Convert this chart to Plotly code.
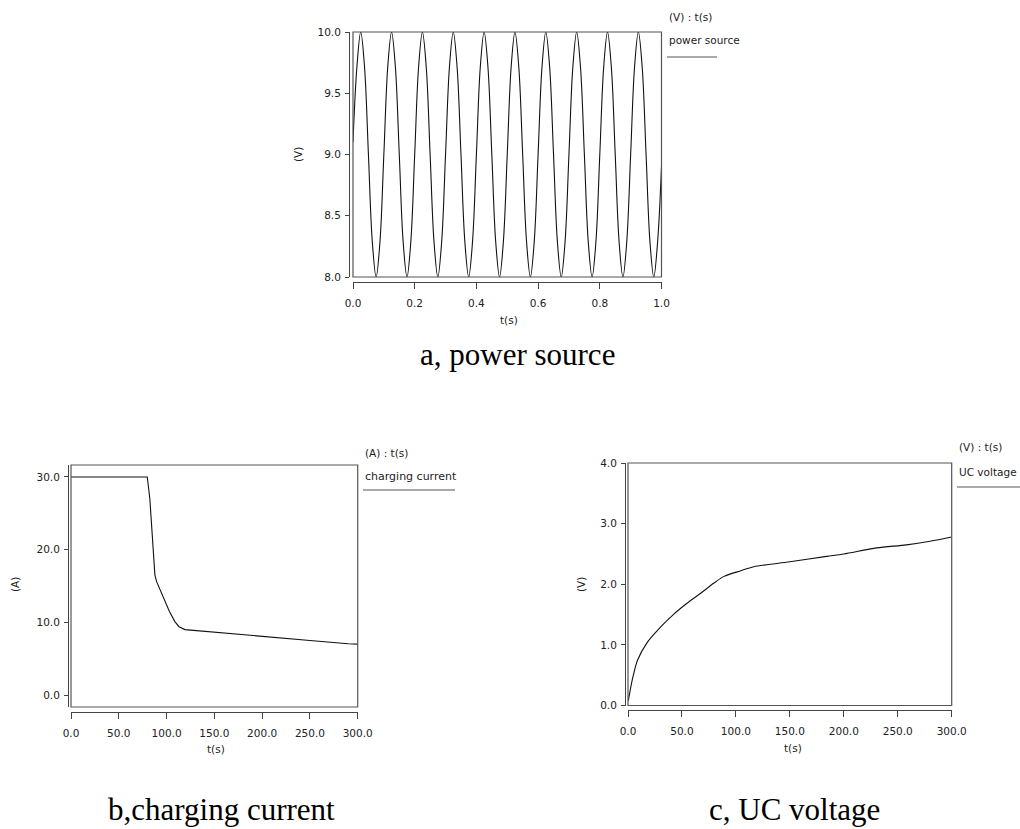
import plotly.graph_objects as go

# ---------------- data ----------------
# a, power source : source voltage oscillating 8..10 V, period 0.1 s
t_src = [0.0, 0.0125, 0.025, 0.0375, 0.05, 0.0625, 0.075, 0.0875,
         0.1, 0.1125, 0.125, 0.1375, 0.15, 0.1625, 0.175, 0.1875,
         0.2, 0.2125, 0.225, 0.2375, 0.25, 0.2625, 0.275, 0.2875,
         0.3, 0.3125, 0.325, 0.3375, 0.35, 0.3625, 0.375, 0.3875,
         0.4, 0.4125, 0.425, 0.4375, 0.45, 0.4625, 0.475, 0.4875,
         0.5, 0.5125, 0.525, 0.5375, 0.55, 0.5625, 0.575, 0.5875,
         0.6, 0.6125, 0.625, 0.6375, 0.65, 0.6625, 0.675, 0.6875,
         0.7, 0.7125, 0.725, 0.7375, 0.75, 0.7625, 0.775, 0.7875,
         0.8, 0.8125, 0.825, 0.8375, 0.85, 0.8625, 0.875, 0.8875,
         0.9, 0.9125, 0.925, 0.9375, 0.95, 0.9625, 0.975, 0.9875,
         1.0]
v_src = [9.1, 9.71, 10.0, 9.71, 9.0, 8.29, 8.0, 8.29,
         9.0, 9.71, 10.0, 9.71, 9.0, 8.29, 8.0, 8.29,
         9.0, 9.71, 10.0, 9.71, 9.0, 8.29, 8.0, 8.29,
         9.0, 9.71, 10.0, 9.71, 9.0, 8.29, 8.0, 8.29,
         9.0, 9.71, 10.0, 9.71, 9.0, 8.29, 8.0, 8.29,
         9.0, 9.71, 10.0, 9.71, 9.0, 8.29, 8.0, 8.29,
         9.0, 9.71, 10.0, 9.71, 9.0, 8.29, 8.0, 8.29,
         9.0, 9.71, 10.0, 9.71, 9.0, 8.29, 8.0, 8.29,
         9.0, 9.71, 10.0, 9.71, 9.0, 8.29, 8.0, 8.29,
         9.0, 9.71, 10.0, 9.71, 9.0, 8.29, 8.0, 8.29,
         8.9]

# b, charging current
t_cur = [0.0, 40.0, 79.8, 82.5, 85.0, 87.8, 89.6, 93.0, 98.3, 103.0,
         108.7, 113.0, 119.2, 140.0, 166.0, 200.0, 250.0, 290.0, 300.0]
i_cur = [30.0, 30.0, 30.0, 27.0, 22.5, 16.5, 15.6, 14.5, 12.8, 11.5,
         10.1, 9.4, 9.0, 8.75, 8.5, 8.05, 7.5, 7.05, 7.0]

# c, UC voltage
t_uc = [0.3, 1.2, 4.3, 8.9, 18.2, 30.5, 42.0, 55.0, 68.0, 79.7, 89.0,
        104.0, 116.6, 150.0, 184.0, 200.0, 230.5, 258.0, 280.0, 300.0]
v_uc = [0.08, 0.17, 0.45, 0.75, 1.05, 1.30, 1.50, 1.69, 1.86, 2.02, 2.13,
        2.22, 2.29, 2.37, 2.46, 2.50, 2.60, 2.65, 2.71, 2.78]

x_ticks_src = [0.0, 0.2, 0.4, 0.6, 0.8, 1.0]
y_ticks_src = [8.0, 8.5, 9.0, 9.5, 10.0]
x_ticks_300 = [0.0, 50.0, 100.0, 150.0, 200.0, 250.0, 300.0]
y_ticks_cur = [0.0, 10.0, 20.0, 30.0]
y_ticks_uc = [0.0, 1.0, 2.0, 3.0, 4.0]

# ---------------- layout helpers ----------------
W, H = 1020, 829


def px(p):
    return p / W


def py(p):
    return 1 - p / H


AX_FONT = dict(family="DejaVu Sans", size=10.5, color="#222")
AXC = "#444"


def xax(dom, pos, rng, ticks):
    return dict(domain=[px(dom[0]), px(dom[1])], anchor="free", position=py(pos),
                range=rng, tickvals=ticks, ticktext=[f"{v:.1f}" for v in ticks],
                showgrid=False, zeroline=False, showline=True, linecolor=AXC,
                linewidth=1, ticks="outside", ticklen=6, tickwidth=1,
                tickcolor=AXC, tickfont=AX_FONT, ticklabelstandoff=5,
                automargin=False, fixedrange=True)


def yax(dom, pos, rng, ticks):
    return dict(domain=[py(dom[1]), py(dom[0])], anchor="free", position=px(pos),
                range=rng, tickvals=ticks, ticktext=[f"{v:.1f}" for v in ticks],
                showgrid=False, zeroline=False, showline=True, linecolor=AXC,
                linewidth=1, ticks="outside", ticklen=4, tickwidth=1,
                tickcolor=AXC, tickfont=AX_FONT, ticklabelstandoff=2,
                automargin=False, fixedrange=True)


LINE = dict(color="#111", width=1.1)

fig = go.Figure()
fig.add_trace(go.Scatter(x=t_src, y=v_src, mode="lines", name="power source",
                         line=dict(LINE, shape="spline", smoothing=1.0),
                         xaxis="x", yaxis="y", showlegend=False))
fig.add_trace(go.Scatter(x=t_cur, y=i_cur, mode="lines", name="charging current",
                         line=dict(LINE, shape="linear"),
                         xaxis="x2", yaxis="y2", showlegend=False))
fig.add_trace(go.Scatter(x=t_uc, y=v_uc, mode="lines", name="UC voltage",
                         line=dict(LINE, shape="spline", smoothing=0.8),
                         xaxis="x3", yaxis="y3", showlegend=False))

fig.update_layout(
    template="none",
    width=W, height=H, margin=dict(l=0, r=0, t=0, b=0, autoexpand=False),
    paper_bgcolor="white", plot_bgcolor="white", showlegend=False,
    xaxis=xax((353, 661.5), 282, [0, 1], x_ticks_src),
    yaxis=yax((32, 277), 349, [8, 10], y_ticks_src),
    xaxis2=xax((71, 357.7), 712, [0, 300], x_ticks_300),
    yaxis2=yax((465, 707), 68, [-1.65, 31.65], y_ticks_cur),
    xaxis3=xax((628, 951.7), 710, [0, 300], x_ticks_300),
    yaxis3=yax((463, 705.5), 625, [0, 4], y_ticks_uc),
)

# plot frames
shapes = []
for s in ["", "2", "3"]:
    shapes.append(dict(type="rect", xref=f"x{s} domain", yref=f"y{s} domain",
                       x0=0, x1=1, y0=0, y1=1, line=dict(color="#555", width=1.2)))

# legend lines
for (x0, x1, y) in [(667, 717, 57), (363, 455, 490), (957, 1020, 487)]:
    shapes.append(dict(type="line", xref="paper", yref="paper",
                       x0=px(x0), x1=px(x1), y0=py(y), y1=py(y),
                       line=dict(color="#555", width=1.2)))
fig.update_layout(shapes=shapes)

ann = []


def text(x, y, s, size=10.5, family="DejaVu Sans", xanchor="left", angle=0, color="#222"):
    ann.append(dict(x=px(x), y=py(y), xref="paper", yref="paper", text=s,
                    showarrow=False, xanchor=xanchor, yanchor="middle",
                    textangle=angle, font=dict(family=family, size=size, color=color)))


# legends
text(667, 17, "(V) : t(s)", size=10.5)
text(667, 40, "power source", size=10.5)
text(363, 453, "(A) : t(s)", size=10.5)
text(363, 476, "charging current", size=11)
text(957, 447, "(V) : t(s)", size=10.5)
text(957, 472, "UC voltage", size=10.5)

# axis titles
text(509, 320, "t(s)", xanchor="center")
text(216, 749, "t(s)", xanchor="center")
text(793, 748, "t(s)", xanchor="center")
text(298, 155, "(V)", xanchor="center", angle=-90)
text(15, 585, "(A)", xanchor="center", angle=-90)
text(581, 585, "(V)", xanchor="center", angle=-90)

# captions
SERIF = "Liberation Serif"
text(517, 354, "a, power source", size=31, family=SERIF, xanchor="center", color="#000")
text(221, 809, "b,charging current", size=31, family=SERIF, xanchor="center", color="#000")
text(794, 809, "c, UC voltage", size=31, family=SERIF, xanchor="center", color="#000")

fig.update_layout(annotations=ann)

fig.write_html("out.html",
               config={"displayModeBar": False, "staticPlot": True},
               post_script="document.body.style.margin='0';"
                           "document.body.style.overflow='hidden';")
